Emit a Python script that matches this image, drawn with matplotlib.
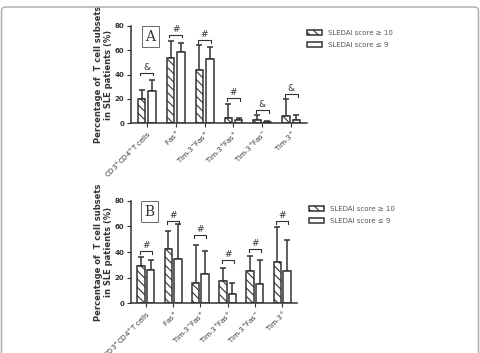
import matplotlib
matplotlib.use("Agg")
import matplotlib.pyplot as plt
import numpy as np
from matplotlib.patches import FancyBboxPatch
from matplotlib.transforms import IdentityTransform

categories = ["CD3$^{+}$CD4$^{+}$T cells", "Fas$^{+}$", "Tim-3$^{-}$Fas$^{+}$",
              "Tim-3$^{+}$Fas$^{+}$", "Tim-3$^{+}$Fas$^{-}$", "Tim-3$^{+}$"]
series_names = ["SLEDAI score \u2265 10", "SLEDAI score \u2264 9"]

# Panel A
a_high = [19.7, 53.4, 43.8, 4.1, 2.5, 5.8]
a_high_err = [7.7, 14.0, 20.3, 11.8, 4.1, 13.7]
a_low = [26.8, 58.9, 52.6, 2.7, 1.0, 2.5]
a_low_err = [8.8, 7.4, 9.9, 1.4, 0.6, 3.8]
a_sig = ["&", "#", "#", "#", "&", "&"]
a_sig_y = [41.6, 72.9, 68.5, 20.3, 10.7, 23.9]

# Panel B
b_high = [29.1, 42.1, 16.1, 17.7, 25.5, 32.2]
b_high_err = [7.3, 14.5, 29.6, 9.8, 11.4, 27.5]
b_low = [26.0, 34.5, 22.9, 7.3, 15.0, 25.4]
b_low_err = [7.8, 27.3, 18.1, 8.8, 18.7, 23.9]
b_sig = ["#", "#", "#", "#", "#", "#"]
b_sig_y = [40.5, 64.4, 53.0, 33.8, 42.0, 64.4]

W, H = 480, 353
fig = plt.figure(figsize=(W / 100, H / 100), dpi=100)
fig.patch.set_facecolor("white")

# outer frame (display pixel coordinates)
frame = FancyBboxPatch((1.5, -60), 477, H - 7 + 60,
                       boxstyle="round,pad=0,rounding_size=4",
                       transform=IdentityTransform(), fill=False,
                       edgecolor="#b0b0b0", linewidth=1.1)
fig.patches.append(frame)

edge = "#333333"
plt.rcParams['hatch.linewidth'] = 0.8
plt.rcParams['hatch.color'] = edge


def panel(rect, high, herr, low, lerr, sig, sigy, letter, legend_pos):
    ax = fig.add_axes(rect)
    width_px = rect[2] * W
    x = np.arange(len(categories))
    off, bw = 0.175, 0.27
    ax.bar(x - off, high, bw, facecolor="white", edgecolor=edge, linewidth=1.1,
           hatch="\\\\\\\\", label=series_names[0], zorder=2)
    ax.bar(x + off, low, bw, facecolor="white", edgecolor=edge, linewidth=1.1,
           label=series_names[1], zorder=2)
    ax.errorbar(x - off, high, yerr=[np.zeros(len(x)), herr], fmt="none",
                ecolor=edge, elinewidth=1.1, capsize=2, capthick=1.1, zorder=1)
    ax.errorbar(x + off, low, yerr=[np.zeros(len(x)), lerr], fmt="none",
                ecolor=edge, elinewidth=1.1, capsize=2, capthick=1.1, zorder=1)
    for xi, s, yv in zip(x, sig, sigy):
        x0, x1 = xi - off - 0.04, xi + off + 0.04
        ax.plot([x0, x0, x1, x1], [yv - 2.2, yv, yv, yv - 2.2], color=edge,
                lw=0.8, clip_on=False)
        ax.text(xi, yv + 0.8, s, ha="center", va="bottom", fontsize=6.5,
                color=edge)
    ax.set_xlim(-0.54, 5.54)
    ax.set_ylim(0, 80)
    ax.set_yticks([0, 20, 40, 60, 80])
    ax.tick_params(axis="y", labelsize=5, length=3, width=0.8, colors=edge,
                   pad=2)
    for lab in ax.get_yticklabels():
        lab.set_fontweight("bold")
    ax.set_xticks(x)
    ax.set_xticklabels(categories, rotation=45, ha="right",
                       rotation_mode="anchor", fontsize=5, color=edge)
    ax.tick_params(axis="x", length=3, width=0.8, colors=edge, pad=1)
    for sp in ["top", "right"]:
        ax.spines[sp].set_visible(False)
    for sp in ["left", "bottom"]:
        ax.spines[sp].set_color(edge)
        ax.spines[sp].set_linewidth(1.1)
    ax.set_ylabel("Percentage of  T cell subsets\nin SLE patients (%)",
                  fontsize=6, fontweight="bold", color=edge,
                  linespacing=1.1)
    ax.yaxis.set_label_coords(-18 / width_px, 0.5)
    ax.text(0.11, 0.96, letter, transform=ax.transAxes, fontsize=10,
            family="DejaVu Serif", ha="center", va="top", color=edge,
            bbox=dict(boxstyle="square,pad=0.25", fc="white", ec="#666666",
                      lw=0.7))
    ax.legend(loc="upper left", bbox_to_anchor=legend_pos,
              bbox_transform=fig.transFigure, frameon=False, fontsize=5,
              handlelength=2.2, handleheight=0.8, labelspacing=0.9,
              borderaxespad=0, labelcolor="#555555")
    return ax


panel([131 / W, 1 - 123 / H, 176 / W, 97 / H], a_high, a_high_err, a_low,
      a_low_err, a_sig, a_sig_y, "A", (304 / W, 1 - 27 / H))
panel([131 / W, 1 - 303.3 / H, 166 / W, 102.6 / H], b_high, b_high_err, b_low,
      b_low_err, b_sig, b_sig_y, "B", (306 / W, 1 - 203 / H))

fig.savefig("out.png", dpi=100)
